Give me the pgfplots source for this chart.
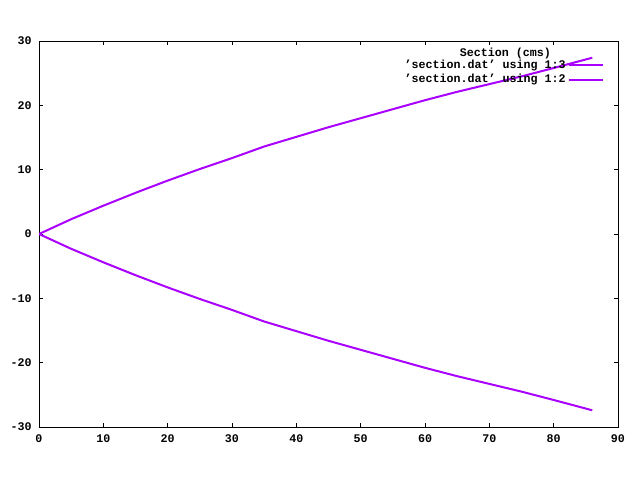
\documentclass[border=0pt]{standalone}
\usepackage{fontspec}
\setmainfont{Liberation Mono}
\usepackage{pgfplots}
\pgfplotsset{compat=1.18}
\definecolor{gpurple}{RGB}{170,0,255}

\begin{document}
\begin{tikzpicture}[x=1pt,y=1pt]
\fill[white] (0,0) rectangle (480,360);
\begin{axis}[
  at={(29.25pt,39.75pt)}, anchor=south west,
  scale only axis, width=434.25pt, height=289.5pt,
  xmin=0, xmax=90, ymin=-30, ymax=30,
  xtick={0,10,...,90}, ytick={-30,-20,...,30},
  tick align=inside, major tick length=3pt,
  axis line style={line width=0.75pt},
  every tick/.style={black, line width=0.75pt},
  tick label style={font=\bfseries\fontsize{8.75}{10}\selectfont},
  /pgf/number format/assume math mode=true,
  xticklabel style={yshift=-2pt},
  yticklabel style={xshift=-2pt},
  legend cell align=right,
  legend plot pos=right,
  legend image code/.code={\draw[#1] (0pt,0pt) -- (25pt,0pt);},
  legend style={draw=none, fill=none, at={(rel axis cs:0.978,0.962)}, anchor=north east,
    font=\bfseries\fontsize{8.75}{10}\selectfont, row sep=-1pt,
    inner sep=1pt},
]
\addplot[gpurple, line width=1.5pt] coordinates {
(0,0) (5,2.3) (10,4.4) (15,6.4) (20,8.3) (25,10.1) (30,11.8) (35,13.6)
(40,15.1) (45,16.6) (50,18.0) (55,19.4) (60,20.8) (65,22.1) (70,23.3)
(75,24.5) (80,25.8) (86,27.4)
};
\addlegendentry{'section.dat' using 1:3}
\addplot[gpurple, line width=1.5pt] coordinates {
(0,0) (5,-2.3) (10,-4.4) (15,-6.4) (20,-8.3) (25,-10.1) (30,-11.8) (35,-13.6)
(40,-15.1) (45,-16.6) (50,-18.0) (55,-19.4) (60,-20.8) (65,-22.1) (70,-23.3)
(75,-24.5) (80,-25.8) (86,-27.4)
};
\addlegendentry{'section.dat' using 1:2}
\node[font=\bfseries\fontsize{8.75}{10}\selectfont] at (axis cs:72.5,28.1) {Section (cms)};
\end{axis}
\end{tikzpicture}
\end{document}
